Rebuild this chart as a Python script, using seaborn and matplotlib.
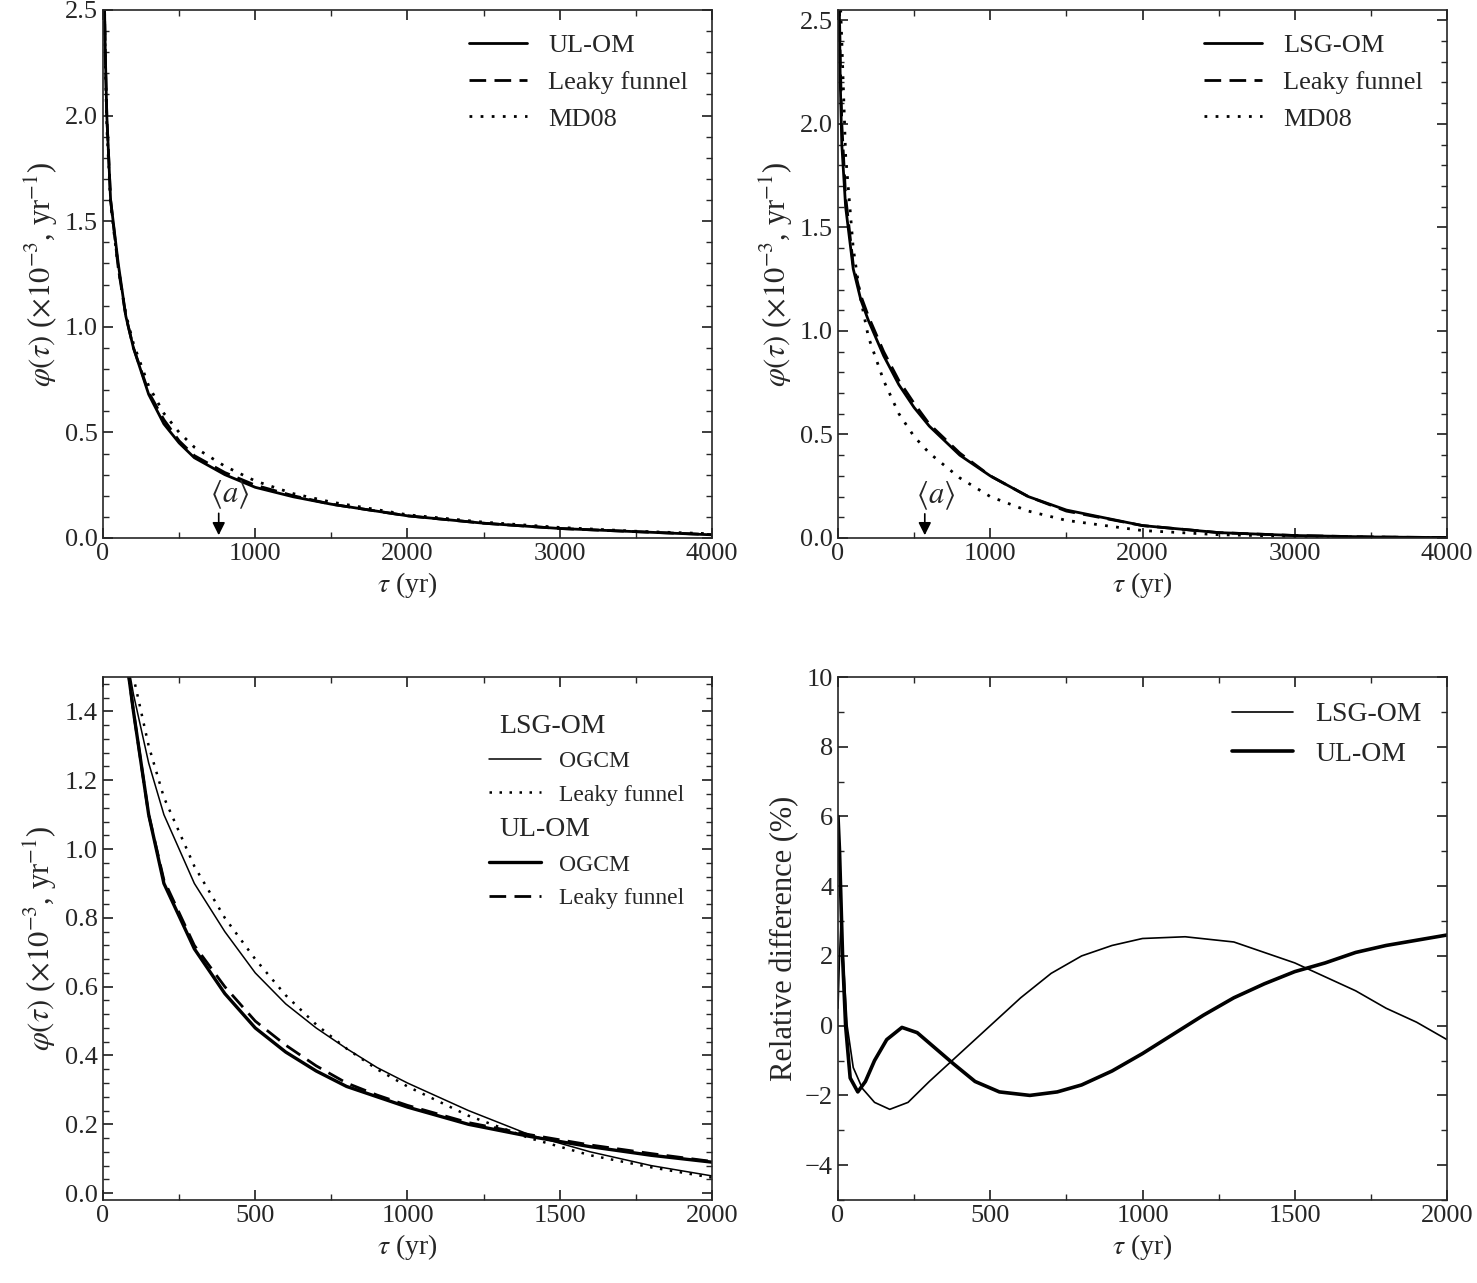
import numpy as np
import pandas as pd
import matplotlib.pyplot as plt
import seaborn as sns
from matplotlib.ticker import AutoMinorLocator

sns.set_theme(style="ticks")
plt.rcParams['font.family'] = ['Liberation Serif', 'DejaVu Serif']
plt.rcParams['mathtext.fontset'] = 'stix'
plt.rcParams['font.size'] = 19

# top-left: UL-OM (values x1e-3 per yr)
t_top = [8, 15, 25, 50, 100, 150, 200, 300, 400, 500, 600, 800, 1000, 1250, 1500, 2000, 2500, 3000, 3500, 4000]
ul_om = [2.6, 2.3, 2.0, 1.6, 1.3, 1.05, 0.9, 0.68, 0.54, 0.45, 0.38, 0.3, 0.24, 0.195, 0.16, 0.105, 0.07, 0.045, 0.03, 0.015]
ul_lf = [2.6, 2.3, 2.0, 1.6, 1.28, 1.05, 0.9, 0.69, 0.56, 0.46, 0.39, 0.31, 0.25, 0.2, 0.16, 0.105, 0.07, 0.045, 0.03, 0.016]
ul_md = [2.6, 2.25, 1.95, 1.58, 1.28, 1.06, 0.92, 0.72, 0.59, 0.5, 0.43, 0.34, 0.27, 0.21, 0.17, 0.11, 0.075, 0.05, 0.032, 0.02]
# top-right: LSG-OM
lsg_om = [2.6, 2.2, 1.9, 1.6, 1.3, 1.15, 1.05, 0.88, 0.74, 0.63, 0.54, 0.4, 0.3, 0.2, 0.135, 0.06, 0.026, 0.012, 0.005, 0.002]
lsg_lf = [2.6, 2.3, 2.0, 1.65, 1.32, 1.17, 1.07, 0.9, 0.76, 0.65, 0.55, 0.41, 0.3, 0.2, 0.13, 0.06, 0.026, 0.012, 0.005, 0.002]
lsg_md = [2.6, 2.6, 2.4, 1.85, 1.4, 1.15, 0.97, 0.76, 0.6, 0.49, 0.41, 0.29, 0.2, 0.13, 0.085, 0.036, 0.016, 0.008, 0.004, 0.002]
mean_age = [760, 570]

# bottom-left: zoom 0-2000
t_bot = [70, 100, 150, 200, 300, 400, 500, 600, 700, 800, 900, 1000, 1200, 1400, 1600, 1800, 2000]
b_lsg_ogcm = [1.6, 1.45, 1.25, 1.1, 0.9, 0.76, 0.64, 0.55, 0.48, 0.42, 0.365, 0.32, 0.24, 0.17, 0.12, 0.08, 0.05]
b_lsg_lf = [1.65, 1.5, 1.3, 1.15, 0.95, 0.8, 0.68, 0.575, 0.49, 0.42, 0.36, 0.31, 0.225, 0.16, 0.11, 0.075, 0.045]
b_ul_ogcm = [1.6, 1.4, 1.1, 0.9, 0.71, 0.58, 0.48, 0.41, 0.355, 0.31, 0.28, 0.25, 0.2, 0.165, 0.135, 0.11, 0.09]
b_ul_lf = [1.6, 1.4, 1.1, 0.91, 0.72, 0.6, 0.5, 0.43, 0.37, 0.32, 0.285, 0.255, 0.205, 0.17, 0.14, 0.115, 0.092]

# bottom-right: relative difference (%)
t_lsg = [0, 5, 10, 20, 30, 50, 80, 120, 170, 230, 300, 400, 500, 600, 700, 800, 900, 1000, 1140, 1300, 1400, 1500, 1600, 1700, 1800, 1900, 2000]
rd_lsg = [0.5, 2.0, 3.0, 1.5, 0.0, -1.2, -1.8, -2.2, -2.4, -2.2, -1.6, -0.8, 0.0, 0.8, 1.5, 2.0, 2.3, 2.5, 2.55, 2.4, 2.1, 1.8, 1.4, 1.0, 0.5, 0.1, -0.4]
t_ul = [0, 5, 10, 15, 25, 40, 65, 90, 120, 160, 210, 260, 300, 380, 450, 530, 630, 720, 800, 900, 1000, 1100, 1200, 1300, 1400, 1500, 1600, 1700, 1800, 1900, 2000]
rd_ul = [6.0, 5.0, 3.5, 2.0, 0.0, -1.5, -1.9, -1.6, -1.0, -0.4, -0.05, -0.2, -0.5, -1.1, -1.6, -1.9, -2.0, -1.9, -1.7, -1.3, -0.8, -0.25, 0.3, 0.8, 1.2, 1.55, 1.8, 2.1, 2.3, 2.45, 2.6]

fig = plt.figure(figsize=(14.77, 12.83), dpi=100)
W, H = 1477, 1283
def box(x0, y0, x1, y1):
    return fig.add_axes([x0 / W, 1 - y1 / H, (x1 - x0) / W, (y1 - y0) / H])
ax1 = box(103, 10, 712, 538)
ax2 = box(838, 10, 1447, 538)
ax3 = box(103, 677, 712, 1200)
ax4 = box(838, 677, 1447, 1200)

def line(ax, x, y, label, ls='-', lw=2.0):
    sns.lineplot(x=x, y=y, ax=ax, color='black', linestyle=ls, linewidth=lw,
                 label=label, sort=False, estimator=None)

def style(ax):
    ax.tick_params(which='both', direction='in', top=True, right=True, labelsize=19)
    ax.tick_params(which='major', length=7)
    ax.tick_params(which='minor', length=4)
    ax.xaxis.set_minor_locator(AutoMinorLocator(2))
    ax.yaxis.set_minor_locator(AutoMinorLocator(5))
    for s in ax.spines.values():
        s.set_linewidth(1.2)

ylab = r'$\varphi(\tau)$ ($\times10^{-3}$, yr$^{-1}$)'
dash = (0, (6, 3))
dot = (0, (1, 3))

for ax, s, lf, md, name, ma in [(ax1, ul_om, ul_lf, ul_md, 'UL-OM', mean_age[0]),
                                 (ax2, lsg_om, lsg_lf, lsg_md, 'LSG-OM', mean_age[1])]:
    line(ax, t_top, s, name)
    line(ax, t_top, lf, 'Leaky funnel', dash)
    line(ax, t_top, md, 'MD08', dot)
    ax.set_xlim(0, 4000)
    ax.set_ylim(0, 2.5 if ax is ax1 else 2.55)
    ax.set_xticks([0, 1000, 2000, 3000, 4000])
    ax.set_yticks(np.arange(0, 2.51, 0.5))
    ax.set_xlabel(r'$\tau$ (yr)', fontsize=20)
    ax.set_ylabel(ylab, fontsize=22)
    ax.annotate('', xy=(ma, 0.0), xytext=(ma, 0.13),
                arrowprops=dict(arrowstyle='-|>', color='black', lw=1.2))
    ax.text(ma + 70, 0.17, r'$\langle a\rangle$', fontsize=22, ha='center')
    ax.legend(frameon=False, loc='upper right', fontsize=19, handlelength=2.2)
    style(ax)

h = []
h += ax3.plot([], [], ' ', label='LSG-OM')
line(ax3, t_bot, b_lsg_ogcm, 'OGCM', '-', 1.1)
line(ax3, t_bot, b_lsg_lf, 'Leaky funnel', dot, 1.8)
ax3.plot([], [], ' ', label='UL-OM')
line(ax3, t_bot, b_ul_ogcm, 'OGCM', '-', 2.4)
line(ax3, t_bot, b_ul_lf, 'Leaky funnel', dash, 2.0)
ax3.set_xlim(0, 2000)
ax3.set_ylim(-0.02, 1.5)
ax3.set_xticks(np.arange(0, 2001, 500))
ax3.set_yticks(np.arange(0, 1.41, 0.2))
ax3.set_xlabel(r'$\tau$ (yr)', fontsize=20)
ax3.set_ylabel(ylab, fontsize=22)
leg = ax3.legend(frameon=False, loc='upper right', fontsize=17, handlelength=2.2,
                 bbox_to_anchor=(0.99, 0.97))
for i in (0, 3):
    leg.get_texts()[i].set_fontsize(20)
    leg.get_texts()[i].set_x(-60)
style(ax3)

line(ax4, t_lsg, rd_lsg, 'LSG-OM', '-', 1.2)
line(ax4, t_ul, rd_ul, 'UL-OM', '-', 2.6)
ax4.set_xlim(0, 2000)
ax4.set_ylim(-5, 10)
ax4.set_xticks(np.arange(0, 2001, 500))
ax4.set_yticks(np.arange(-4, 10.1, 2))
ax4.set_xlabel(r'$\tau$ (yr)', fontsize=20)
ax4.set_ylabel('Relative difference (%)', fontsize=22)
ax4.legend(frameon=False, loc='upper right', fontsize=20, handlelength=2.2)
style(ax4)
ax4.yaxis.set_minor_locator(AutoMinorLocator(2))

fig.savefig('out.png', dpi=100)
